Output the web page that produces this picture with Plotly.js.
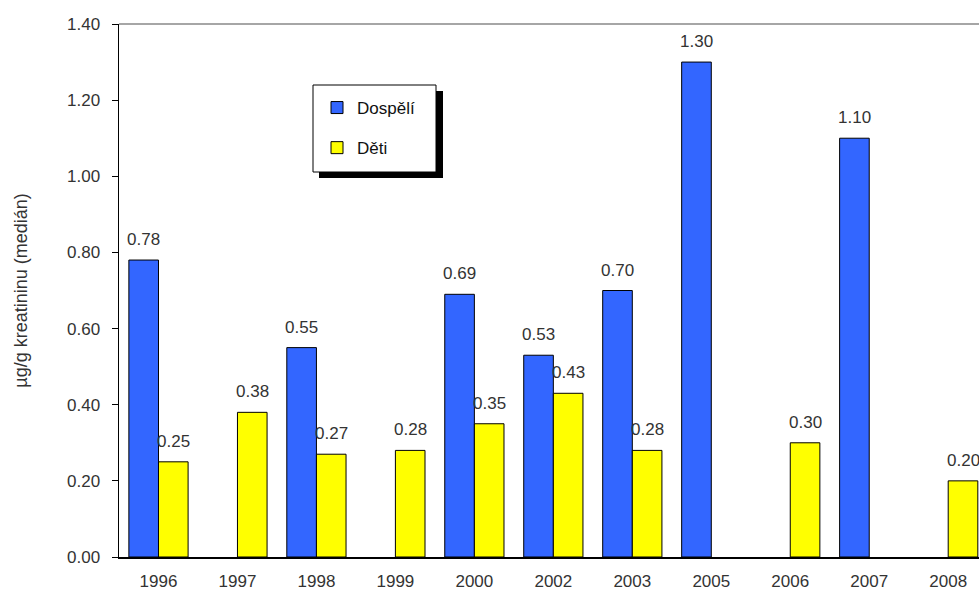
<!DOCTYPE html>
<html>
<head>
<meta charset="utf-8">
<script src="https://cdn.plot.ly/plotly-3.0.1.min.js"></script>
<style>
  html, body { margin: 0; padding: 0; background: #fff; overflow: hidden; }
  #chart { width: 979px; height: 595px; }
</style>
</head>
<body>
<div id="chart"></div>
<script>
// Survey years (category axis)
const years = ['1996', '1997', '1998', '1999', '2000', '2002', '2003', '2005', '2006', '2007', '2008'];
// Median values, µg/g creatinine
const dospeli = [0.78, null, 0.55, null, 0.69, 0.53, 0.70, 1.30, null, 1.10, null];
const deti    = [0.25, 0.38, 0.27, 0.28, 0.35, 0.43, 0.28, null, 0.30, null, 0.20];
const seriesNames = ['Dospělí', 'Děti'];
const yTicks = [0, 0.2, 0.4, 0.6, 0.8, 1.0, 1.2, 1.4];

const FONT = 'Arial, "Liberation Sans", sans-serif';
const TXT = '#333333';
const BLUE = '#3366ff';
const YELLOW = '#ffff00';

const traces = [
  {
    type: 'bar', name: seriesNames[0], x: years, y: dospeli,
    legendgroup: 'a',
    marker: { color: BLUE, line: { color: '#000', width: 1 } },
    hoverinfo: 'x+y'
  },
  {
    type: 'bar', name: seriesNames[1], x: years, y: deti,
    legendgroup: 'b',
    marker: { color: YELLOW, line: { color: '#000', width: 1 } },
    hoverinfo: 'x+y'
  }
];

// Plot area geometry (px)
const L = 119, T = 24, B = 38, W = 979, H = 595;
const plotW = W - L, plotH = H - T - B;
const xRange = [-0.5, 10.39];
const catPx = plotW / (xRange[1] - xRange[0]);
const bargap = 0.25;
const barPx = catPx * (1 - bargap) / 2;

// Value labels above each bar (x given as category index, since the
// year names look numeric)
const annotations = [];
[dospeli, deti].forEach((vals, s) => {
  vals.forEach((v, i) => {
    if (v === null) return;
    annotations.push({
      x: i, y: v, xref: 'x', yref: 'y',
      text: v.toFixed(2), showarrow: false,
      yanchor: 'bottom', xanchor: 'center',
      xshift: (s === 0 ? -1 : 1) * barPx / 2,
      yshift: 9,
      font: { family: FONT, size: 17, color: TXT }
    });
  });
});

// pixel -> paper helpers for the legend frame
const px2x = p => (p - L) / plotW;
const py2y = p => (H - B - p) / plotH;

const shapes = [
  // top border of plot area
  { type: 'line', xref: 'paper', yref: 'paper', x0: 0, x1: 1, y0: 1, y1: 1,
    line: { color: '#888888', width: 1.5 } },
  // legend drop shadow
  { type: 'rect', xref: 'paper', yref: 'paper',
    x0: px2x(319), x1: px2x(443), y0: py2y(178), y1: py2y(91),
    fillcolor: '#000', line: { width: 0 }, layer: 'above' },
  // legend frame
  { type: 'rect', xref: 'paper', yref: 'paper',
    x0: px2x(313), x1: px2x(436), y0: py2y(172), y1: py2y(85),
    fillcolor: '#fff', line: { color: '#000', width: 1 }, layer: 'above' }
];

const layout = {
  width: W, height: H,
  margin: { l: L, r: 0, t: T, b: B, pad: 0 },
  paper_bgcolor: '#fff', plot_bgcolor: '#fff',
  font: { family: FONT, size: 17, color: TXT },
  barmode: 'group', bargap: bargap, bargroupgap: 0,
  showlegend: true,
  legend: {
    x: px2x(317), y: py2y(90), xanchor: 'left', yanchor: 'top',
    bgcolor: 'rgba(0,0,0,0)', borderwidth: 0,
    font: { family: FONT, size: 17, color: '#111111' },
    tracegroupgap: 15, traceorder: 'grouped'
  },
  xaxis: {
    type: 'category', range: xRange,
    showline: true, linecolor: '#000', linewidth: 1.5,
    ticks: '', showgrid: false, zeroline: false,
    ticklabelstandoff: 8,
    tickfont: { family: FONT, size: 17, color: TXT },
    fixedrange: true
  },
  yaxis: {
    range: [0, 1.4], tickvals: yTicks, tickformat: '.2f',
    showline: true, linecolor: '#000', linewidth: 1.5,
    ticks: 'outside', ticklen: 6, tickcolor: '#000', tickwidth: 1,
    ticklabelstandoff: 8,
    showgrid: false, zeroline: false,
    tickfont: { family: FONT, size: 17, color: TXT },
    title: { text: 'µg/g kreatininu (medián)', standoff: 34,
             font: { family: FONT, size: 18, color: TXT } },
    automargin: false, fixedrange: true
  },
  shapes: shapes,
  annotations: annotations
};

Plotly.newPlot('chart', traces, layout, { displayModeBar: false, staticPlot: true });
</script>
</body>
</html>
